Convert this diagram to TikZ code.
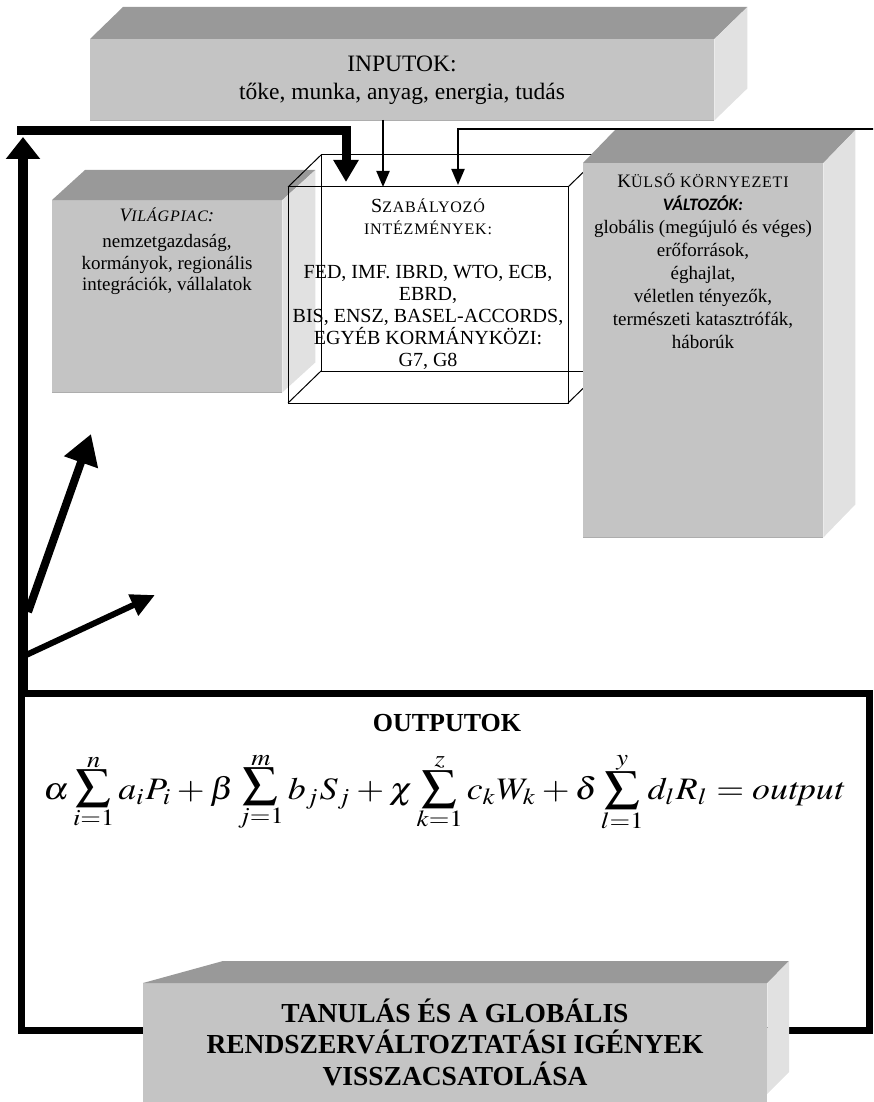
\documentclass[tikz,border=0pt]{standalone}
\usepackage{mathptmx}
\usepackage[no-math]{fontspec}
\usepackage{graphicx}
\setmainfont{Liberation Serif}
\newfontfamily\calib{Carlito}
\usetikzlibrary{arrows.meta,calc}
\definecolor{topgray}{HTML}{999999}
\definecolor{frontgray}{HTML}{C4C4C4}
\definecolor{sidegray}{HTML}{E1E1E1}
\definecolor{edgegray}{HTML}{ADADAD}
\newcommand\fs[2]{\fontsize{#1}{#2}\selectfont}
\newcommand\smc[1]{{\fontsize{16}{16}\selectfont\addfontfeatures{LetterSpace=5}#1}}
\newcommand\Sm[2]{\mathop{\vcenter{\offinterlineskip\halign{\hfil$##$\hfil\cr
  \scriptstyle #2\cr\noalign{\kern0.5pt}\scalebox{1.4}{$\textstyle\sum$}\cr\noalign{\kern1pt}\scriptstyle #1\cr}}}}
\newcommand\threedfaces[3]{%
  \fill[topgray] (#1.north west) -- ++(#2,#3) -- ($(#1.north east)+(#2,#3)$) -- (#1.north east) -- cycle;
  \fill[sidegray] (#1.north east) -- ++(#2,#3) -- ($(#1.south east)+(#2,#3)$) -- (#1.south east) -- cycle;
  \draw[edgegray,line width=1.5pt] (#1.south west) -- (#1.south east);
}
\tikzset{
  frontbox/.style={fill=frontgray, draw=none, inner sep=0pt, anchor=north west, align=center},
  txt/.style={inner sep=0pt, align=center},
  cubeline/.style={draw=black, line width=1pt},
  thinarrow/.style={draw=black, line width=2pt, -{Triangle[length=16pt,width=13pt]}},
  fatline/.style={draw=black, line width=7pt},
}
\begin{document}
\begin{tikzpicture}[x=1pt,y=-1pt]
\useasboundingbox (0,0) rectangle (873,1102);
\clip (0,0) rectangle (873,1102);

% ---------- OUTPUTOK frame ----------
\coordinate (onw) at (21.5,693);
\coordinate (ose) at (869.5,1030);
\draw[fatline] (onw) rectangle (ose);
\node[txt, font=\bfseries\fs{26}{26}] (outtitle) at (447,723) {OUTPUTOK};
\node[txt] (formula) at (444,792) {\resizebox*{801pt}{73pt}{$\displaystyle
 \alpha\Sm{i=1}{n} a_iP_i+\beta\Sm{j=1}{m} b_jS_j+\chi\Sm{k=1}{z} c_kW_k+\delta\Sm{l=1}{y} d_lR_l=\mathit{output}$}};

% ---------- INPUTOK ----------
\node[frontbox, minimum width=624pt, minimum height=81pt] (inp) at (90,39) {};
\threedfaces{inp}{33}{-32}
\node[txt, font=\fs{23.5}{28}] (inptxt) at (402,80)
  {INPUTOK:\\ tőke, munka, anyag, energia, tudás};

% ---------- VILÁGPIAC ----------
\node[frontbox, minimum width=230pt, minimum height=192pt] (vil) at (52,200) {};
\threedfaces{vil}{33}{-30}
\node[txt, font=\fs{19}{21.5}] (viltxt) at (167,251)
  {{\itshape V\smc{ILÁGPIAC}:}\\[5pt] nemzetgazdaság,\\ kormányok, regionális\\ integrációk, vállalatok};

% ---------- SZABÁLYOZÓ cube ----------
\coordinate (cfnw) at (288,187);
\coordinate (cfse) at (568,403);
\coordinate (cbnw) at (321,155);
\coordinate (cbse) at (601,371);
\draw[cubeline] (cbnw) rectangle (cbse);
\draw[cubeline] (cfnw) rectangle (cfse);
\draw[cubeline] (cfnw) -- (cbnw);
\draw[cubeline] (cfnw |- cfse) -- (cbnw |- cbse);
\draw[cubeline] (cfse |- cfnw) -- (cbse |- cbnw);
\draw[cubeline] (cfse) -- (cbse);
\node[txt, font=\fs{20}{22}] (szab) at (428,284)
  {S\smc{ZABÁLYOZÓ}\\ \smc{INTÉZMÉNYEK:}\\[22pt]
   FED, IMF. IBRD, WTO, ECB,\\ EBRD,\\ BIS, ENSZ, BASEL-ACCORDS,\\ EGYÉB KORMÁNYKÖZI:\\ G7, G8};

% ---------- KÜLSŐ ----------
\node[frontbox, minimum width=240pt, minimum height=374pt] (kul) at (583,163) {};
\threedfaces{kul}{32}{-33}
\node[txt, font=\fs{19}{23}] (kultxt) at (703,261)
  {K\smc{ÜLSŐ KÖRNYEZETI}\\ {\calib\bfseries\itshape\fs{17.5}{17.5}VÁLTOZÓK:}\\
   globális (megújuló és véges)\\ erőforrások,\\ éghajlat,\\ véletlen tényezők,\\
   természeti katasztrófák,\\ háborúk};

% ---------- arrows ----------
\coordinate (inpout) at (383,120);
\coordinate (szabin1) at (383,187);
\draw[thinarrow] (inpout) -- (szabin1);
\coordinate (extstart) at (875,129);
\coordinate (extbend) at (458,129);
\coordinate (szabin2) at (458,185);
\draw[thinarrow] (extstart) -- (extbend) -- (szabin2);

\coordinate (upstart) at (23,697);
\coordinate (uptip) at (23,137);
\draw[line width=10pt, -{Triangle[length=22pt,width=33pt]}] (upstart) -- (uptip);
\coordinate (fbl) at (17,131);
\coordinate (fbr) at (346,131);
\coordinate (fbtip) at (346,182);
\draw[line width=9pt, -{Triangle[length=22pt,width=24pt]}] (fbl) -- (fbr) -- (fbtip);

\coordinate (a1s) at (28,612);
\coordinate (a1t) at (91,434);
\draw[line width=8pt, -{Triangle[length=30pt,width=34pt]}] (a1s) -- (a1t);
\coordinate (a2s) at (24,656);
\coordinate (a2t) at (155,595);
\draw[line width=6pt, -{Triangle[length=24pt,width=22pt]}] (a2s) -- (a2t);

% ---------- TANULÁS ----------
\node[frontbox, minimum width=624pt, minimum height=130pt] (tan) at (143,983) {};
\fill[topgray] (tan.north west) -- (223,961) -- (789,961) -- (tan.north east) -- cycle;
\fill[sidegray] (tan.north east) -- (789,961) -- (789,1072) -- (767,1094) -- cycle;
\node[txt, font=\bfseries\fs{27.5}{31.5}] (tantxt) at (455,1042)
  {TANULÁS ÉS A GLOBÁLIS\\ RENDSZERVÁLTOZTATÁSI IGÉNYEK\\ VISSZACSATOLÁSA};
\end{tikzpicture}
\end{document}
